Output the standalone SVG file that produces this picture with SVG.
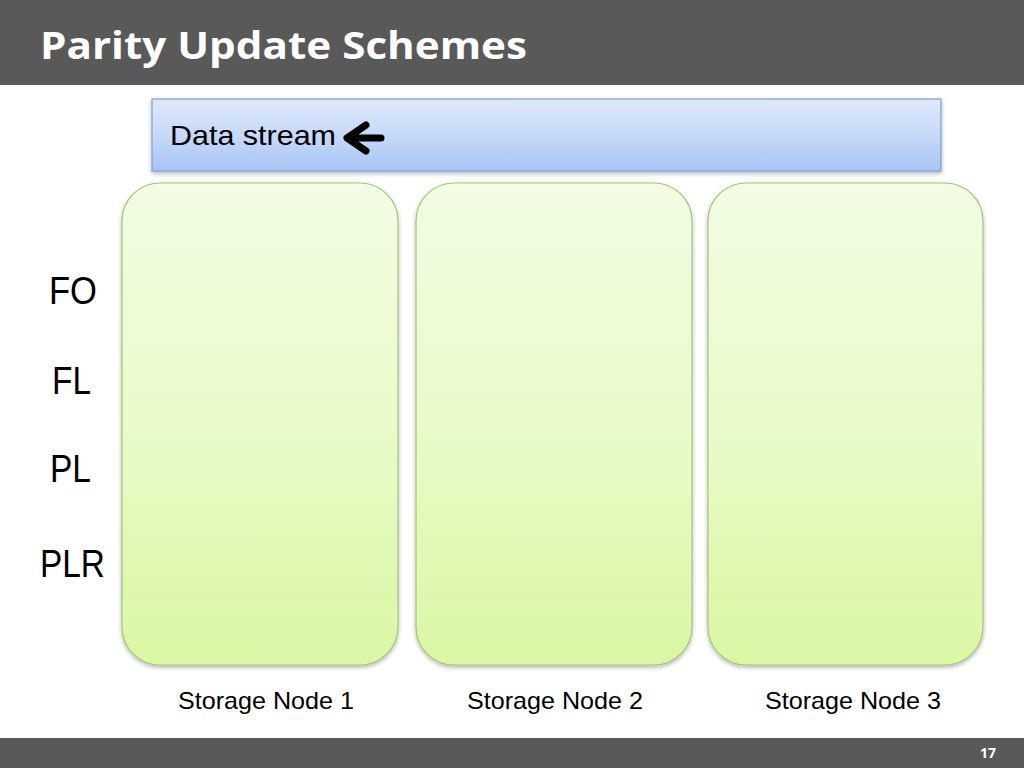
<svg xmlns="http://www.w3.org/2000/svg" width="1024" height="768" viewBox="0 0 1024 768">
  <defs>
    <linearGradient id="gBlue" x1="0" y1="0" x2="0" y2="1">
      <stop offset="0" stop-color="#dfe9fc"/>
      <stop offset="0.5" stop-color="#c6d9f9"/>
      <stop offset="1" stop-color="#a8c4f3"/>
    </linearGradient>
    <linearGradient id="gGreen" x1="0" y1="0" x2="0" y2="1">
      <stop offset="0" stop-color="#f2fde4"/>
      <stop offset="0.5" stop-color="#e8fbc9"/>
      <stop offset="1" stop-color="#d9f7a4"/>
    </linearGradient>
    <filter id="shadow" x="-5%" y="-10%" width="110%" height="125%">
      <feGaussianBlur in="SourceAlpha" stdDeviation="2"/>
      <feOffset dx="0" dy="2" result="b"/>
      <feComponentTransfer><feFuncA type="linear" slope="0.3"/></feComponentTransfer>
      <feMerge><feMergeNode/><feMergeNode in="SourceGraphic"/></feMerge>
    </filter>
  </defs>
  <style>
    .title { font-family: "Open Sans", "Liberation Sans", Arial, sans-serif; font-weight: bold; fill: #ffffff; }
    .lbl { font-family: "Liberation Sans", Arial, sans-serif; fill: #000000; }
    .node { fill: url(#gGreen); stroke: #a4c477; stroke-width: 1.2; }
    .stream { fill: url(#gBlue); stroke: #7b9fd8; stroke-width: 1.2; }
  </style>

  <rect x="0" y="0" width="1024" height="768" fill="#ffffff"/>

  <g id="header">
    <rect x="0" y="0" width="1024" height="85" fill="#595959"/>
    <text class="title" x="40" y="59" font-size="37" textLength="487" lengthAdjust="spacingAndGlyphs">Parity Update Schemes</text>
  </g>

  <g id="data-stream">
    <rect class="stream" x="152" y="99" width="789" height="72" filter="url(#shadow)"/>
    <text class="lbl" x="170" y="145" font-size="28" textLength="166" lengthAdjust="spacingAndGlyphs">Data stream</text>
    <path d="M366,125 L347,138 L366,151 M348,138 L381,138" fill="none" stroke="#000000" stroke-width="7" stroke-linecap="round" stroke-linejoin="round"/>
  </g>

  <g id="storage-node-1">
    <rect class="node" x="122" y="183" width="276" height="482" rx="38" ry="38" filter="url(#shadow)"/>
    <text class="lbl" x="266" y="709" font-size="24" text-anchor="middle" textLength="176" lengthAdjust="spacingAndGlyphs">Storage Node 1</text>
  </g>

  <g id="storage-node-2">
    <rect class="node" x="416" y="183" width="276" height="482" rx="38" ry="38" filter="url(#shadow)"/>
    <text class="lbl" x="555" y="709" font-size="24" text-anchor="middle" textLength="176" lengthAdjust="spacingAndGlyphs">Storage Node 2</text>
  </g>

  <g id="storage-node-3">
    <rect class="node" x="708" y="183" width="275" height="482" rx="38" ry="38" filter="url(#shadow)"/>
    <text class="lbl" x="853" y="709" font-size="24" text-anchor="middle" textLength="176" lengthAdjust="spacingAndGlyphs">Storage Node 3</text>
  </g>

  <g id="scheme-labels">
    <text class="lbl" x="49" y="304" font-size="38" textLength="48" lengthAdjust="spacingAndGlyphs">FO</text>
    <text class="lbl" x="52" y="394" font-size="38" textLength="39" lengthAdjust="spacingAndGlyphs">FL</text>
    <text class="lbl" x="50" y="482" font-size="38" textLength="41" lengthAdjust="spacingAndGlyphs">PL</text>
    <text class="lbl" x="40" y="577" font-size="38" textLength="65" lengthAdjust="spacingAndGlyphs">PLR</text>
  </g>

  <g id="connectors"></g>

  <g id="footer">
    <rect x="0" y="738" width="1024" height="30" fill="#595959"/>
    <text class="title" x="996" y="758" font-size="14" text-anchor="end">17</text>
  </g>
</svg>
